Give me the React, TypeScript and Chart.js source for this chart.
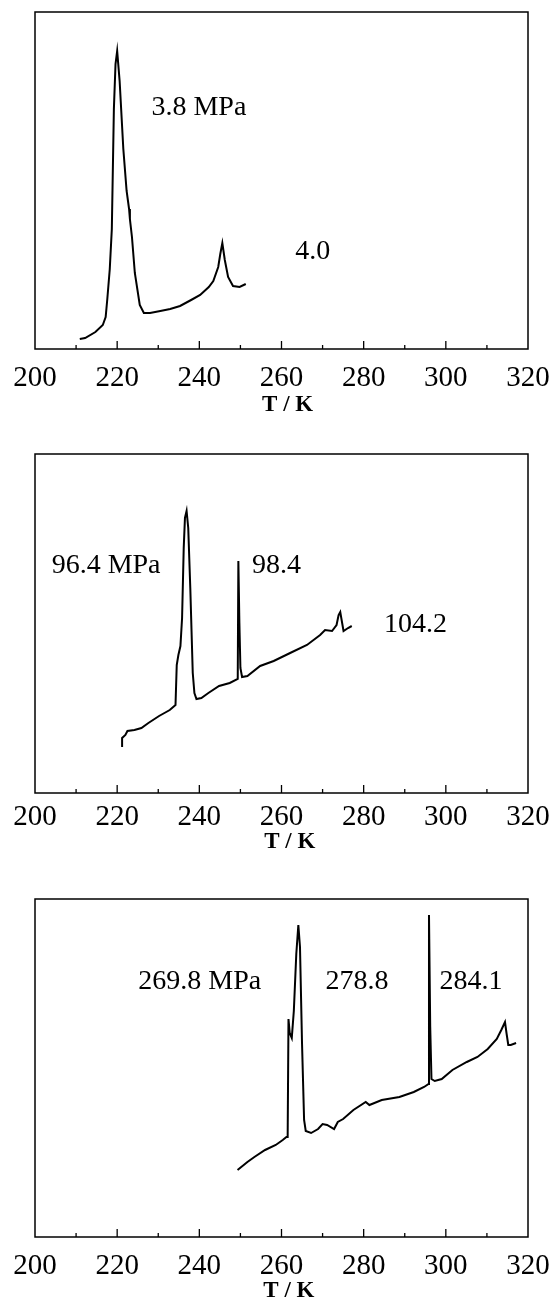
import React, { useEffect, useRef } from "react";
import { Chart, registerables } from "chart.js";

Chart.register(...registerables);

// ---------- data ----------
const xMin = 200;
const xMax = 320;
const xStep = 20;
const axisTitle = "T / K";

const p1T = [210.9, 212.2, 214.7, 216.5, 217.2, 217.6, 218.2, 218.7, 219.2, 219.6, 220.0, 220.6, 221.5, 222.3, 222.7, 222.9, 223.1, 223.6, 224.3, 225.5, 226.5, 228.0, 230.5, 232.9, 235.3, 238.0, 240.2, 242.3, 243.4, 244.6, 245.1, 245.6, 246.2, 247.0, 248.2, 249.8, 251.3];
const p1S = [10, 11, 17, 24, 32, 50, 80, 120, 240, 285, 298, 268, 200, 158, 146, 140, 130, 112, 76, 44, 36, 36, 38, 40, 43, 49, 54, 62, 68, 82, 95, 106, 89, 72, 63, 62, 65];
const p1Notes = ["3.8 MPa", "4.0"];
const p1NoteT = [239.9, 267.6];
const p1NoteS = [241, 97];

const p2T = [221.2, 221.2, 222.0, 222.5, 224.2, 225.9, 227.6, 230.2, 232.8, 234.2, 234.5, 234.9, 235.4, 235.8, 236.2, 236.5, 236.9, 237.3, 237.8, 238.4, 238.8, 239.3, 240.5, 242.2, 244.8, 247.4, 249.35, 249.5, 249.75, 250.0, 250.4, 251.7, 254.8, 258.1, 262.1, 266.2, 269.4, 270.6, 272.3, 273.4, 273.9, 274.3, 275.1, 276.2, 277.1];
const p2S = [46, 55, 58, 62, 63, 65, 70, 77, 83, 88, 128, 138, 147, 175, 245, 275, 282, 265, 205, 120, 100, 94, 95, 100, 107, 110, 114, 232, 170, 125, 116, 117, 127, 132, 140, 148, 158, 163, 162, 168, 178, 181, 162, 165, 167];
const p2Notes = ["96.4 MPa", "98.4", "104.2"];
const p2NoteT = [217.3, 258.8, 292.6];
const p2NoteS = [227, 227, 168];

const p3T = [249.3, 251.7, 253.4, 256.0, 258.6, 260.3, 261.2, 261.5, 261.7, 262.0, 262.5, 263.0, 263.6, 264.1, 264.5, 265.0, 265.5, 265.9, 267.2, 268.9, 270.0, 271.1, 272.8, 273.7, 275.0, 277.5, 280.5, 281.4, 284.4, 288.7, 292.2, 294.7, 295.8, 295.9, 296.2, 296.5, 297.3, 299.0, 301.6, 305.1, 307.7, 310.2, 312.4, 313.5, 314.4, 314.8, 315.2, 315.8, 317.1];
const p3S = [67, 75, 80, 87, 92, 97, 100, 100, 218, 204, 199, 226, 283, 312, 290, 193, 117, 106, 104, 108, 113, 112, 108, 115, 118, 127, 135, 132, 137, 140, 145, 150, 153, 322, 210, 158, 156, 158, 167, 175, 180, 188, 198, 207, 215, 203, 192, 192, 194];
const p3Notes = ["269.8 MPa", "278.8", "284.1"];
const p3NoteT = [240.1, 278.4, 306.1];
const p3NoteS = [255, 255, 255];

// ---------- layout ----------
const SERIF = '"Liberation Serif", "Times New Roman", Times, serif';

type PanelCfg = {
  T: number[];
  S: number[];
  notes: string[];
  noteT: number[];
  noteS: number[];
  top: number;
  height: number;
  padTop: number;
  padBottom: number;
  yMax: number;
  tickPad: number;
  titleGap: number;
  titleT: number;
};

const panels: PanelCfg[] = [
  { T: p1T, S: p1S, notes: p1Notes, noteT: p1NoteT, noteS: p1NoteS, top: 0, height: 430, padTop: 12, padBottom: 21, yMax: 337, tickPad: 4, titleGap: 56, titleT: 261.5 },
  { T: p2T, S: p2S, notes: p2Notes, noteT: p2NoteT, noteS: p2NoteS, top: 430, height: 430, padTop: 24, padBottom: 7, yMax: 339, tickPad: -1, titleGap: 49, titleT: 262 },
  { T: p3T, S: p3S, notes: p3Notes, noteT: p3NoteT, noteS: p3NoteS, top: 860, height: 441, padTop: 39, padBottom: 4, yMax: 338, tickPad: 4, titleGap: 54, titleT: 261.8 },
];

const decorPlugin = {
  id: "decor",
  afterDatasetsDraw(chart: any, _args: any, opts: any) {
    const { ctx, chartArea: a, scales } = chart;
    const x = scales.x;
    const y = scales.y;
    ctx.save();
    ctx.strokeStyle = "#000";
    ctx.lineWidth = 1.5;
    ctx.strokeRect(a.left, a.top, a.right - a.left, a.bottom - a.top);
    ctx.lineWidth = 1.3;
    for (let v = xMin + 10; v < xMax; v += 10) {
      const px = x.getPixelForValue(v);
      const len = (v - xMin) % xStep === 0 ? 8 : 4;
      ctx.beginPath();
      ctx.moveTo(px, a.bottom);
      ctx.lineTo(px, a.bottom - len);
      ctx.stroke();
    }
    ctx.fillStyle = "#000";
    ctx.textAlign = "center";
    ctx.textBaseline = "middle";
    ctx.font = `28px ${SERIF}`;
    const notes: string[] = opts.notes || [];
    notes.forEach((t, i) => {
      ctx.fillText(t, x.getPixelForValue(opts.noteT[i]), y.getPixelForValue(opts.noteS[i]));
    });
    ctx.font = `bold 23px ${SERIF}`;
    ctx.fillText(axisTitle, x.getPixelForValue(opts.titleT), a.bottom + opts.titleGap);
    ctx.restore();
  },
};

function Panel({ cfg }: { cfg: PanelCfg }) {
  const ref = useRef<HTMLCanvasElement | null>(null);
  useEffect(() => {
    if (!ref.current) return;
    const data = cfg.T.map((t, i) => ({ x: t, y: cfg.S[i] }));
    const chart = new Chart(ref.current, {
      type: "line",
      data: {
        datasets: [
          {
            data,
            borderColor: "#000",
            borderWidth: 2,
            pointRadius: 0,
            tension: 0,
            fill: false,
          },
        ],
      },
      options: {
        responsive: false,
        animation: false,
        layout: { padding: { left: 35, right: 27, top: cfg.padTop, bottom: cfg.padBottom } },
        plugins: {
          legend: { display: false },
          tooltip: { enabled: false },
          decor: {
            notes: cfg.notes,
            noteT: cfg.noteT,
            noteS: cfg.noteS,
            titleGap: cfg.titleGap,
            titleT: cfg.titleT,
          },
        } as any,
        scales: {
          x: {
            type: "linear",
            min: xMin,
            max: xMax,
            grid: { display: false },
            border: { display: false },
            ticks: {
              stepSize: xStep,
              color: "#000",
              padding: cfg.tickPad,
              maxRotation: 0,
              autoSkip: false,
              font: { family: SERIF, size: 29, lineHeight: 1.2 },
            },
            afterFit: (scale: any) => {
              scale.height = 60;
            },
          },
          y: {
            type: "linear",
            min: 0,
            max: cfg.yMax,
            display: false,
          },
        },
      },
      plugins: [decorPlugin],
    });
    return () => chart.destroy();
  }, [cfg]);
  return (
    <canvas
      ref={ref}
      width={555}
      height={cfg.height}
      style={{ position: "absolute", left: 0, top: cfg.top, width: 555, height: cfg.height, display: "block" }}
    />
  );
}

export default function App() {
  return (
    <div style={{ position: "absolute", left: 0, top: 0, width: 555, height: 1301, background: "#fff" }}>
      {panels.map((p, i) => (
        <Panel key={i} cfg={p} />
      ))}
    </div>
  );
}
